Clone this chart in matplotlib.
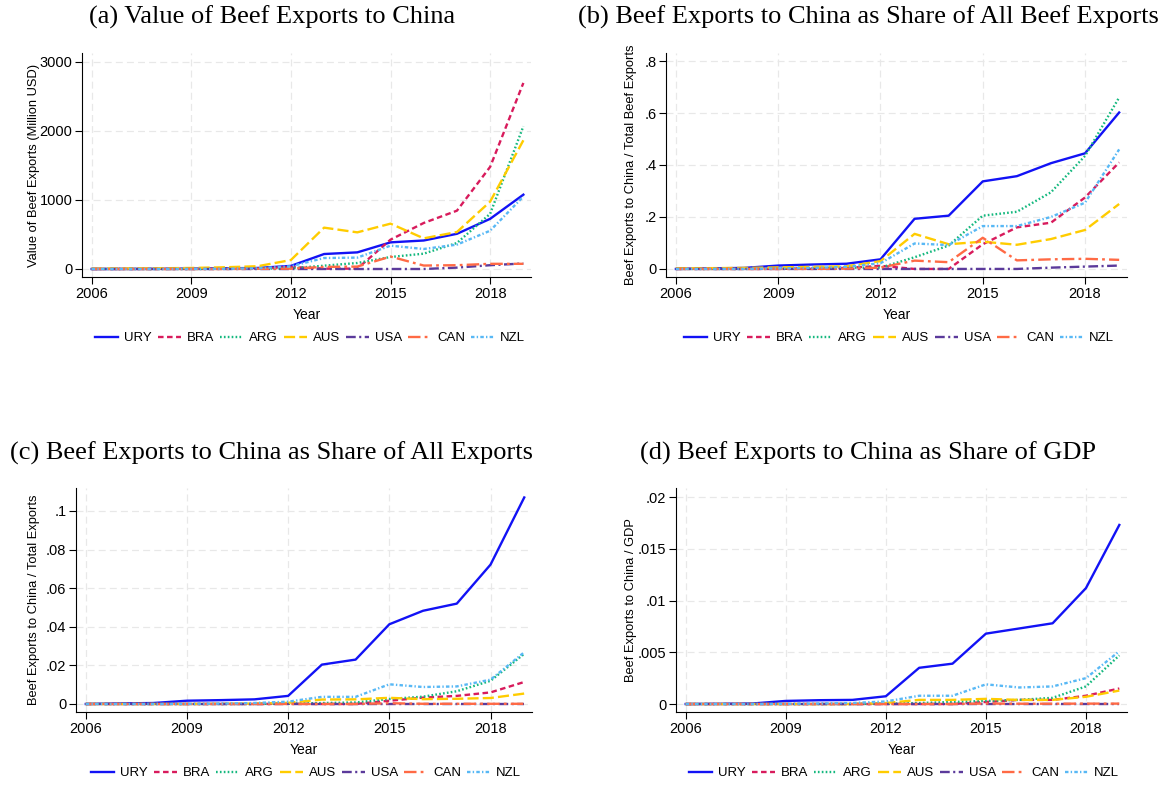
import numpy as np
import matplotlib
matplotlib.use("Agg")
import matplotlib.pyplot as plt

plt.rcParams['font.family'] = ['Liberation Sans', 'DejaVu Sans']
plt.rcParams['lines.scale_dashes'] = False

years = np.arange(2006, 2020)
countries = ["URY", "BRA", "ARG", "AUS", "USA", "CAN", "NZL"]

# (a) value of beef exports to China, million USD
valueURY = [0, 1, 2, 5, 10, 15, 45, 217, 241, 386, 413, 510, 727, 1077]
valueBRA = [0, 0, 0, 0, 2, 5, 30, 5, 5, 425, 667, 845, 1480, 2696]
valueARG = [0, 0, 0, 0, 2, 5, 10, 48, 87, 174, 222, 377, 800, 2068]
valueAUS = [5, 8, 10, 15, 25, 40, 130, 599, 531, 657, 444, 536, 976, 1865]
valueUSA = [0, 0, 0, 0, 0, 0, 0, 0, 0, 0, 0, 20, 55, 80]
valueCAN = [0, 0, 0, 0, 0, 2, 5, 30, 35, 180, 50, 55, 75, 75]
valueNZL = [0, 0, 0, 1, 3, 10, 40, 159, 165, 338, 290, 353, 555, 1050]

# (b) share of all beef exports
beefURY = [0, 0.002, 0.004, 0.013, 0.017, 0.02, 0.037, 0.193, 0.205, 0.337, 0.357, 0.407, 0.445, 0.602]
beefBRA = [0, 0, 0, 0, 0.002, 0.004, 0.012, 0.0, 0.0, 0.095, 0.16, 0.178, 0.275, 0.41]
beefARG = [0, 0, 0, 0.002, 0.004, 0.005, 0.005, 0.045, 0.09, 0.205, 0.22, 0.295, 0.435, 0.66]
beefAUS = [0.003, 0.003, 0.004, 0.006, 0.008, 0.01, 0.03, 0.135, 0.095, 0.105, 0.093, 0.115, 0.15, 0.25]
beefUSA = [0, 0, 0, 0, 0, 0, 0, 0, 0, 0, 0, 0.005, 0.009, 0.013]
beefCAN = [0, 0, 0, 0, 0, 0.001, 0.005, 0.032, 0.026, 0.12, 0.033, 0.037, 0.039, 0.035]
beefNZL = [0, 0, 0, 0.002, 0.004, 0.008, 0.022, 0.098, 0.092, 0.165, 0.165, 0.2, 0.255, 0.46]

# (c) share of all exports
totURY = [0, 0.0003, 0.0005, 0.0017, 0.002, 0.0024, 0.0042, 0.0204, 0.023, 0.0413, 0.0483, 0.052, 0.0722, 0.107]
totBRA = [0, 0, 0, 0, 0, 0, 0.0001, 0, 0, 0.0017, 0.0033, 0.0042, 0.006, 0.0114]
totARG = [0, 0, 0, 0, 0, 0, 0.0002, 0.0005, 0.0008, 0.0026, 0.0038, 0.0066, 0.012, 0.026]
totAUS = [0, 0, 0, 0, 0.0001, 0.0002, 0.0006, 0.0023, 0.0024, 0.0032, 0.0025, 0.0027, 0.0031, 0.0054]
totUSA = [0, 0, 0, 0, 0, 0, 0, 0, 0, 0, 0, 0, 0, 0]
totCAN = [0, 0, 0, 0, 0, 0, 0, 0, 0, 0.0004, 0.0001, 0.0001, 0.0001, 0.0001]
totNZL = [0, 0, 0, 0.0001, 0.0002, 0.0005, 0.0012, 0.0037, 0.0037, 0.0102, 0.0088, 0.0091, 0.0126, 0.0268]

# (d) share of GDP
gdpURY = [0, 0.00002, 0.00005, 0.0003, 0.00037, 0.0004, 0.00075, 0.0035, 0.0039, 0.0068, 0.0073, 0.0078, 0.0112, 0.0173]
gdpBRA = [0, 0, 0, 0, 0, 0, 0, 0, 0, 0.0002, 0.0004, 0.0004, 0.0008, 0.0015]
gdpARG = [0, 0, 0, 0, 0, 0, 0.00003, 0.0001, 0.0002, 0.0003, 0.0004, 0.0006, 0.0017, 0.0047]
gdpAUS = [0, 0, 0, 0, 0, 0, 0.0001, 0.0004, 0.0004, 0.0005, 0.0004, 0.0004, 0.0007, 0.0013]
gdpUSA = [0, 0, 0, 0, 0, 0, 0, 0, 0, 0, 0, 0, 0, 0]
gdpCAN = [0, 0, 0, 0, 0, 0, 0, 0, 0, 0.00005, 0.00003, 0.00003, 0.00004, 0.00004]
gdpNZL = [0, 0, 0, 0.00002, 0.00005, 0.0001, 0.00025, 0.0008, 0.0008, 0.0019, 0.0016, 0.0017, 0.0025, 0.0051]

colors = ["#1212f5", "#d81b5c", "#14b87e", "#ffcc00", "#5b3a9b", "#ff6a45", "#58b8f5"]
styles = ["-", (0, (4, 2.5)), (0, (1.2, 1.6)), (0, (8, 3)),
          (0, (7, 2.5, 1.5, 2.5)), (0, (9, 3, 2, 3)), (0, (2.5, 1.6, 1, 1.6))]

W, H = 1171, 787


def addAxes(left, right, top, bottom):
    return fig.add_axes([left / W, 1 - bottom / H, (right - left) / W, (bottom - top) / H])


def drawPanel(ax, series, yticks, ylabels, ylim, ylabel, ylabelX, legendPos):
    for values, name, c, ls in zip(series, countries, colors, styles):
        ax.plot(years, values, color=c, linestyle=ls, linewidth=1.7, label=name)
    ax.set_xlim(2005.71, 2019.23)
    ax.set_ylim(*ylim)
    ax.set_xticks([2006, 2009, 2012, 2015, 2018])
    ax.set_yticks(yticks)
    ax.set_yticklabels(ylabels)
    ax.tick_params(labelsize=10.5, length=5, width=0.8, direction='out', pad=2)
    ax.grid(True, color="#e8e8e8", linestyle=(0, (5, 3)), linewidth=0.9)
    ax.set_axisbelow(True)
    for s in ['top', 'right']:
        ax.spines[s].set_visible(False)
    ax.set_xlabel("Year", fontsize=10, labelpad=5)
    ax.set_ylabel(ylabel, fontsize=9.3)
    # y title placed by its right-hand edge, in figure pixels
    left = ax.get_position().x0 * W
    ax.yaxis.set_label_coords((ylabelX + 6 - left) / (ax.get_position().width * W), 0.5)
    ax.legend(loc='center', bbox_to_anchor=(legendPos[0] / W, 1 - legendPos[1] / H),
              bbox_transform=fig.transFigure, ncol=7, frameon=False, fontsize=9.5,
              handlelength=1.75, handletextpad=0.45, columnspacing=0.45)


fig = plt.figure(figsize=(W / 100, H / 100), dpi=100)

axA = addAxes(82, 531, 53, 277)
drawPanel(axA, [valueURY, valueBRA, valueARG, valueAUS, valueUSA, valueCAN, valueNZL],
          [0, 1000, 2000, 3000], ["0", "1000", "2000", "3000"], (-116, 3130),
          "Value of Beef Exports (Million USD)", 34, (310, 338))

axB = addAxes(666, 1127, 53, 277)
drawPanel(axB, [beefURY, beefBRA, beefARG, beefAUS, beefUSA, beefCAN, beefNZL],
          [0, 0.2, 0.4, 0.6, 0.8], ["0", ".2", ".4", ".6", ".8"], (-0.031, 0.831),
          "Beef Exports to China / Total Beef Exports", 631, (899, 338))

axC = addAxes(76, 532, 488, 712)
drawPanel(axC, [totURY, totBRA, totARG, totAUS, totUSA, totCAN, totNZL],
          [0, 0.02, 0.04, 0.06, 0.08, 0.1], ["0", ".02", ".04", ".06", ".08", ".1"],
          (-0.00415, 0.1119), "Beef Exports to China / Total Exports", 34, (306, 773))

axD = addAxes(676, 1127, 488, 712)
drawPanel(axD, [gdpURY, gdpBRA, gdpARG, gdpAUS, gdpUSA, gdpCAN, gdpNZL],
          [0, 0.005, 0.01, 0.015, 0.02], ["0", ".005", ".01", ".015", ".02"],
          (-0.00077, 0.02087), "Beef Exports to China / GDP", 631, (904, 773))

titleFont = dict(family='Liberation Serif', fontsize=19, ha='center', va='center')
fig.text(272 / W, 1 - 17 / H, "(a) Value of Beef Exports to China", **titleFont)
fig.text(868 / W, 1 - 17 / H, "(b) Beef Exports to China as Share of All Beef Exports", **titleFont)
fig.text(271 / W, 1 - 453 / H, "(c) Beef Exports to China as Share of All Exports", **titleFont)
fig.text(868 / W, 1 - 453 / H, "(d) Beef Exports to China as Share of GDP", **titleFont)

fig.savefig("out.png", dpi=100)
